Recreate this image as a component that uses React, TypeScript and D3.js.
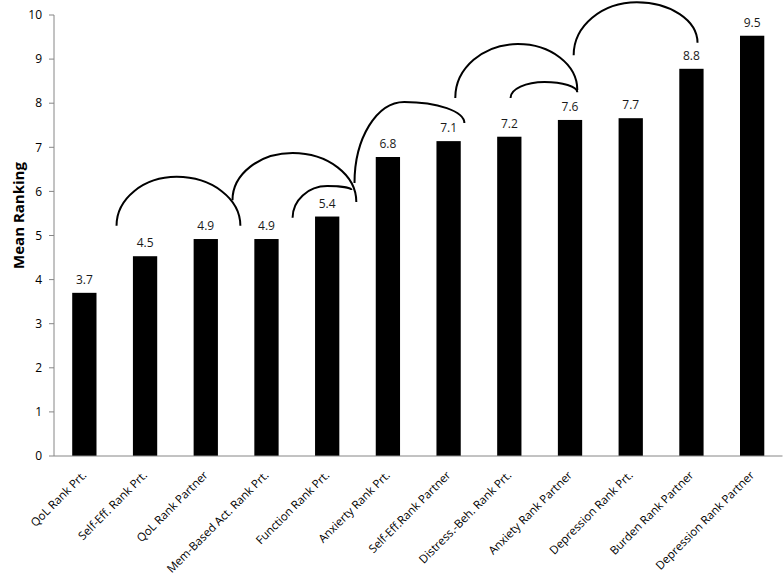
import React from 'react';
import * as d3 from 'd3';

// categories along the x axis (rotated labels)
const categories = [
  'QoL Rank Prt.',
  'Self-Eff. Rank Prt.',
  'QoL Rank Partner',
  'Mem-Based Act. Rank Prt.',
  'Function Rank Prt.',
  'Anxierty Rank Prt.',
  'Self-Eff.Rank Partner',
  'Distress.-Beh. Rank Prt.',
  'Anxiety Rank Partner',
  'Depression Rank Prt.',
  'Burden Rank Partner',
  'Depression Rank Partner',
];

// mean rankings
const values = [3.7, 4.53, 4.92, 4.92, 5.43, 6.78, 7.14, 7.24, 7.62, 7.66, 8.78, 9.53];

const yTicks = [0, 1, 2, 3, 4, 5, 6, 7, 8, 9, 10];

// annotation arcs: [startIndex, startValue, topIndex, topValue, endIndex, endValue]
// (index in category units, value in ranking units)
const arcs = [
  [0.53, 5.22, 1.52, 6.33, 2.57, 5.22],
  [2.44, 5.8, 3.43, 6.87, 4.48, 5.76],
  [3.43, 5.4, 4.0, 6.12, 4.4, 6.03],
  [4.45, 6.19, 5.27, 8.03, 6.26, 7.55],
  [6.11, 8.12, 7.14, 9.34, 8.12, 8.3],
  [7.02, 8.12, 7.58, 8.48, 8.12, 8.25],
  [8.06, 9.09, 9.1, 10.29, 10.1, 9.37],
];

const FONT = "'Open Sans', 'Noto Sans', sans-serif";

export default function App() {
  const width = 784;
  const height = 580;
  const margin = { top: 15, right: 1.5, bottom: 124, left: 54 };

  const x = d3
    .scaleBand()
    .domain(categories)
    .range([margin.left, width - margin.right])
    .paddingInner(0.6)
    .paddingOuter(0.3);

  const y = d3
    .scaleLinear()
    .domain([0, 10])
    .range([height - margin.bottom, margin.top]);

  const bw = x.bandwidth();
  // position of a (fractional) category index
  const xi = (i: number) => (x(categories[0]) as number) + bw / 2 + i * x.step();

  const arcPath = (a: number[]) => {
    const [li, lv, ti, tv, ri, rv] = a;
    const lx = xi(li), ly = y(lv);
    const tx = xi(ti), ty = y(tv);
    const rx = xi(ri), ry = y(rv);
    const k = 0.5523;
    const p = d3.path();
    p.moveTo(lx, ly);
    p.bezierCurveTo(lx, ly - k * (ly - ty), tx - k * (tx - lx), ty, tx, ty);
    p.bezierCurveTo(tx + k * (rx - tx), ty, rx, ry - k * (ry - ty), rx, ry);
    return p.toString();
  };

  const axisColor = '#868686';
  const y0 = y(0);

  return (
    <svg
      width={width}
      height={height}
      style={{ position: 'absolute', left: 0, top: 0, background: '#fff' }}
      fontFamily={FONT}
    >
      {/* bars */}
      {categories.map((c, i) => (
        <rect
          key={c}
          x={x(c)}
          y={y(values[i])}
          width={bw}
          height={y0 - y(values[i])}
          fill="#000"
        />
      ))}

      {/* value labels */}
      {categories.map((c, i) => (
        <text
          key={'v' + c}
          x={(x(c) as number) + bw / 2}
          y={y(values[i]) - 9}
          textAnchor="middle"
          fontSize={12}
          fill="#1a1a1a"
        >
          {values[i].toFixed(1)}
        </text>
      ))}

      {/* y axis */}
      <line x1={margin.left} x2={margin.left} y1={y(10)} y2={y0} stroke={axisColor} strokeWidth={1} />
      {yTicks.map((t) => (
        <g key={t} transform={`translate(0,${y(t)})`}>
          <line x1={margin.left - 5} x2={margin.left} stroke={axisColor} strokeWidth={1} />
          <text x={margin.left - 12} dy="0.35em" textAnchor="end" fontSize={12} fill="#000">
            {t}
          </text>
        </g>
      ))}

      {/* x axis */}
      <line x1={margin.left} x2={width - margin.right} y1={y0} y2={y0} stroke={axisColor} strokeWidth={1} />
      {categories.map((c) => (
        <text
          key={'x' + c}
          transform={`translate(${(x(c) as number) + bw / 2},${y0 + 17}) rotate(-45)`}
          dy="0.35em"
          textAnchor="end"
          fontSize={11.5}
          fill="#000"
        >
          {c}
        </text>
      ))}

      {/* y axis title */}
      <text
        transform={`translate(24,${(y(10) + y0) / 2 - 20}) rotate(-90)`}
        textAnchor="middle"
        fontSize={15}
        fontWeight="bold"
        fill="#000"
      >
        Mean Ranking
      </text>

      {/* annotation arcs */}
      {arcs.map((a, i) => (
        <path key={'a' + i} d={arcPath(a)} fill="none" stroke="#000" strokeWidth={2} />
      ))}
    </svg>
  );
}
